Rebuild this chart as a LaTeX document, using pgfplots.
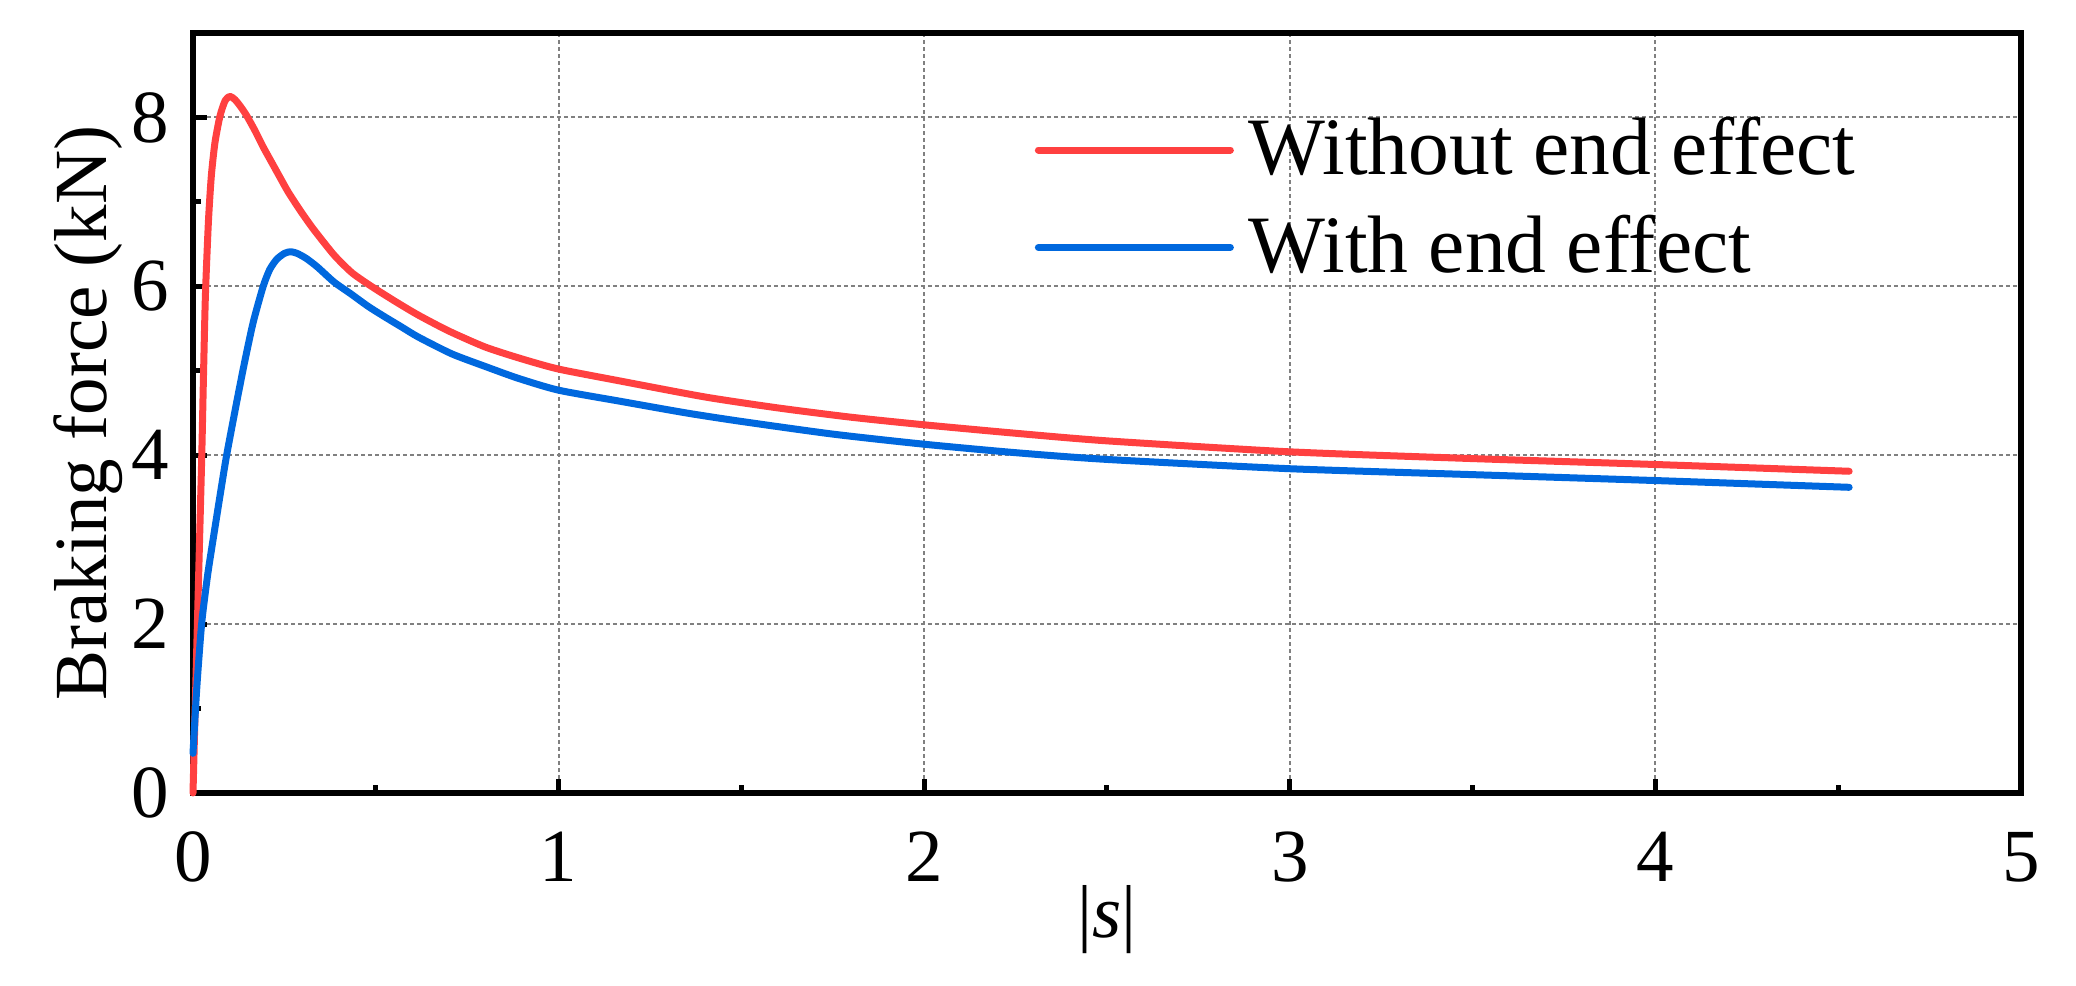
\documentclass[border=0pt]{standalone}
\usepackage{fontspec}
\setmainfont{Liberation Serif}
\usepackage{pgfplots}
\pgfplotsset{compat=1.18}
\definecolor{cred}{RGB}{255,64,64}
\definecolor{cblue}{RGB}{0,104,222}
\begin{document}
\begin{tikzpicture}
\useasboundingbox (-38.6pt,-38.6pt) rectangle (376.6pt,158.6pt);
\begin{axis}[
  scale only axis, width=365.6pt, height=152pt,
  at={(0,0)}, anchor=south west,
  xmin=0, xmax=5, ymin=0, ymax=9,
  xtick={0,1,2,3,4,5}, ytick={0,2,4,6,8},
  minor xtick={0.5,1.5,2.5,3.5,4.5}, minor ytick={1,3,5,7},
  tick pos=left, tick align=inside,
  major tick length=2.8pt, minor tick length=1.6pt,
  tick style={line width=1pt, black},
  grid=major,
  major grid style={line width=0.4pt, color=gray, dash pattern=on 0.8pt off 0.6pt},
  axis line style={line width=1.2pt},
  /pgf/number format/assume math mode=true,
  ticklabel style={font=\fontsize{15}{18}\selectfont},
  xticklabel style={anchor=center, yshift=-12.8pt},
  yticklabel style={anchor=east, inner sep=0pt, xshift=-4.6pt},
  xlabel={|\textit{s}|},
  xlabel style={at={(axis description cs:0.5,-0.166)}, anchor=center, font=\fontsize{15}{18}\selectfont},
  ylabel={Braking force (kN)},
  ylabel style={at={(axis description cs:-0.0574,0.5)}, anchor=center, font=\fontsize{15}{18}\selectfont},
  clip=false,
  legend style={at={(0.46,0.89)}, anchor=north west, draw=none, fill=none, inner sep=0pt,
    font=\fontsize{16.3}{19}\selectfont, row sep=6.5pt, column sep=3pt, nodes={inner sep=0pt}},
  legend cell align=left,
  legend image code/.code={\draw[#1] (0pt,0pt) -- (38.4pt,0pt);},
]
\addplot[cred, line width=1.4pt, line cap=round, line join=round, smooth, tension=0.4] coordinates {
(0,0) (0.006,1.0) (0.012,2.0) (0.018,3.0) (0.024,4.0) (0.029,5.0) (0.034,5.9)
(0.042,6.75) (0.05,7.3) (0.06,7.7) (0.074,8.02) (0.088,8.2) (0.101,8.25)
(0.115,8.21) (0.13,8.13) (0.147,8.02) (0.17,7.84) (0.192,7.65) (0.215,7.47)
(0.238,7.29) (0.26,7.12) (0.293,6.90) (0.329,6.68) (0.386,6.37) (0.435,6.16)
(0.488,6.00) (0.55,5.83) (0.616,5.66) (0.7,5.47) (0.8,5.28) (0.9,5.14)
(1.0,5.02) (1.167,4.88) (1.4,4.69) (1.6,4.56) (1.8,4.45) (2.0,4.36) (2.25,4.26)
(2.5,4.17) (3.0,4.04) (3.5,3.96) (4.0,3.89) (4.53,3.81)
};
\addlegendentry{Without end effect}
\addplot[cblue, line width=1.4pt, line cap=round, line join=round, smooth, tension=0.4] coordinates {
(0,0.47) (0.006,0.93) (0.012,1.35) (0.024,2.02) (0.04,2.58) (0.056,3.03) (0.075,3.55)
(0.092,4.0) (0.12,4.64) (0.142,5.12) (0.165,5.58) (0.192,6.0)
(0.21,6.2) (0.229,6.32) (0.25,6.39) (0.267,6.41) (0.285,6.39) (0.31,6.33)
(0.34,6.23) (0.386,6.05) (0.432,5.91) (0.48,5.76) (0.524,5.64) (0.57,5.52)
(0.616,5.40) (0.708,5.20) (0.8,5.05) (0.89,4.91) (1.0,4.77) (1.167,4.64)
(1.35,4.50) (1.5,4.40) (1.75,4.25) (2.0,4.13) (2.25,4.03) (2.5,3.95) (3.0,3.84)
(3.5,3.77) (4.0,3.70) (4.53,3.62)
};
\addlegendentry{With end effect}
\end{axis}
\end{tikzpicture}
\end{document}
